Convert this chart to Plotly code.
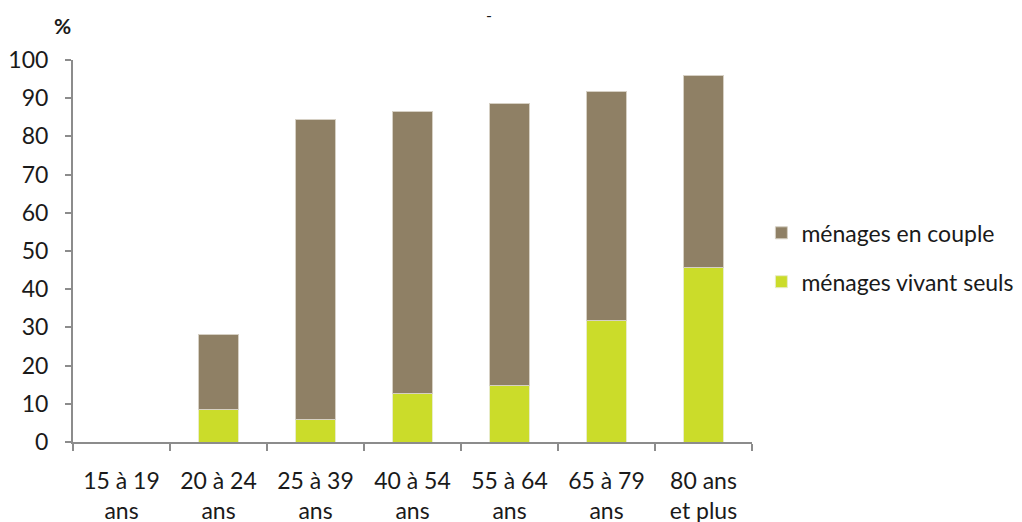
import plotly.graph_objects as go

# Age groups of the reference person
categories = ["15 à 19<br>ans", "20 à 24<br>ans", "25 à 39<br>ans", "40 à 54<br>ans",
              "55 à 64<br>ans", "65 à 79<br>ans", "80 ans<br>et plus"]

# Share of households (%) by type, stacked
vivant_seuls = [0.0, 8.4, 5.9, 12.6, 14.7, 31.8, 45.8]
en_couple_total = [0.0, 28.2, 84.4, 86.5, 88.5, 91.7, 95.9]
en_couple = [t - s for t, s in zip(en_couple_total, vivant_seuls)]

y_ticks = list(range(0, 101, 10))

FONT = "Lato"
AXIS_GREY = "#8c8c8c"
GREEN = "#CBDC2A"
BROWN = "#8F8065"

fig = go.Figure()
fig.add_trace(go.Bar(
    x=categories, y=vivant_seuls, name="ménages vivant seuls",
    marker=dict(color=GREEN, line=dict(color="#e8ecc8", width=1)),
    legendgroup="seuls", legendrank=2,
))
fig.add_trace(go.Bar(
    x=categories, y=en_couple, name="ménages en couple",
    marker=dict(color=BROWN, line=dict(color="#d6d0c4", width=1)),
    legendgroup="couple", legendrank=1,
))

fig.update_layout(
    barmode="stack",
    bargap=0.585,
    width=1022, height=522,
    margin=dict(l=73, r=270, t=60, b=80, autoexpand=False),
    paper_bgcolor="white", plot_bgcolor="white",
    font=dict(family=FONT, size=23, color="#1a1a1a"),
    showlegend=True,
    legend=dict(
        xref="container", yref="container",
        x=0.745, y=0.507, xanchor="left", yanchor="middle",
        traceorder="grouped", tracegroupgap=16,
        font=dict(family=FONT, size=23, color="#1a1a1a"),
        itemwidth=30, bgcolor="rgba(0,0,0,0)",
    ),
    xaxis=dict(
        showline=True, linecolor=AXIS_GREY, linewidth=2,
        ticks="outside", tickson="boundaries", ticklen=7, tickcolor=AXIS_GREY, tickwidth=2,
        ticklabelstandoff=17, showgrid=False, zeroline=False, automargin=False,
    ),
    yaxis=dict(
        range=[0, 100], tickvals=y_ticks,
        showline=True, linecolor=AXIS_GREY, linewidth=2,
        ticks="outside", ticklen=6, tickcolor=AXIS_GREY, tickwidth=2,
        ticklabelstandoff=12, showgrid=False, zeroline=False, automargin=False,
    ),
    annotations=[
        dict(text="<b>%</b>", xref="paper", yref="paper", x=-0.016, y=1.09,
             xanchor="center", yanchor="middle", showarrow=False,
             font=dict(family=FONT, size=21, color="#1a1a1a")),
        dict(text="-", xref="paper", yref="paper", x=0.612, y=1.12,
             xanchor="center", yanchor="middle", showarrow=False,
             font=dict(family=FONT, size=16, color="#1a1a1a")),
    ],
)

fig.write_html("out.html")
